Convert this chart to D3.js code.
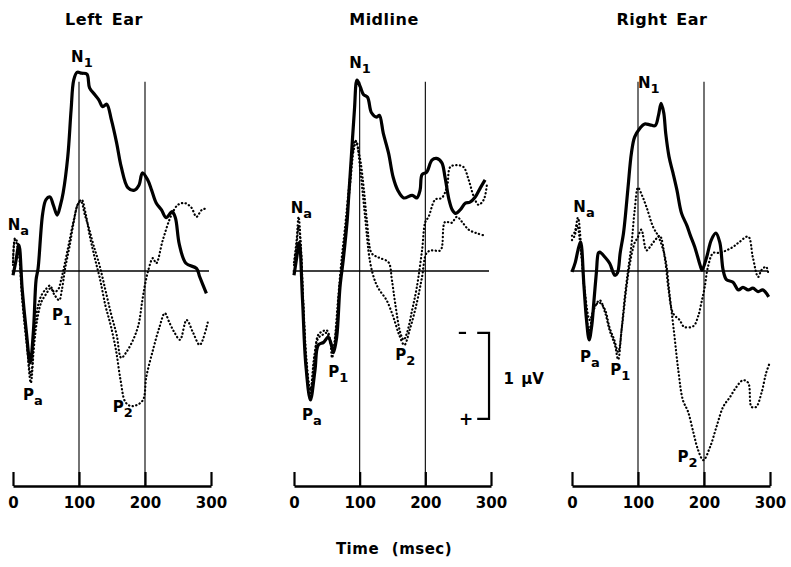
<!DOCTYPE html>
<html>
<head>
<meta charset="utf-8">
<script src="https://cdn.jsdelivr.net/npm/d3@7/dist/d3.min.js"></script>
<style>
body { margin: 0; background: #fff; }
text { font-family: "DejaVu Sans", Arial, Helvetica, sans-serif; font-weight: bold; fill: #000; }
</style>
</head>
<body>
<div id="chart"></div>
<script>

// ---- data: time (msec) and amplitude (uV, negative drawn up) ----
var titles = ["Left Ear", "Midline", "Right Ear"];
var tickLabels = [0, 100, 200, 300];

var leftSolidT = [0,4,9,14,20,26,31,35,38,45,50,56,61,67,72,76,83,88,92,97,104,112,116,124,130,136,142,149,157,164,174,184,191,196,204,210,217,225,232,241,246,252,262,278,283,293];
var leftSolidV = [0.05,-0.10,-0.30,0.22,0.69,1.07,0.69,0.10,-0.03,-0.67,-0.83,-0.86,-0.77,-0.65,-0.77,-0.91,-1.33,-1.87,-2.22,-2.31,-2.30,-2.29,-2.13,-2.05,-1.99,-1.91,-1.94,-1.76,-1.49,-1.21,-0.97,-0.94,-1.00,-1.14,-1.06,-0.94,-0.79,-0.71,-0.62,-0.69,-0.62,-0.31,-0.09,-0.03,0.07,0.26];

var leftDotAT = [0,3,8,14,20,27,32,37,43,50,57,63,70,74,79,86,92,98,104,110,116,124,132,140,148,156,163,170,178,187,197,202,212,222,230,237,245,253,263,273,283,295];
var leftDotAV = [-0.07,-0.38,-0.30,0.22,0.74,1.30,0.86,0.55,0.36,0.27,0.20,0.28,0.34,0.22,-0.03,-0.30,-0.57,-0.77,-0.83,-0.67,-0.42,-0.15,0.10,0.40,0.63,0.92,1.27,1.52,1.57,1.56,1.50,1.23,0.92,0.65,0.49,0.60,0.72,0.80,0.57,0.72,0.86,0.60];

var leftDotBT = [0,3,8,14,20,27,33,38,44,50,56,62,68,73,78,85,92,99,103,109,115,122,131,140,149,157,164,172,182,190,196,200,205,212,217,227,240,250,260,270,278,286,295];
var leftDotBV = [-0.10,-0.36,-0.24,0.34,0.80,1.21,0.69,0.40,0.27,0.21,0.17,0.24,0.22,0.10,-0.07,-0.33,-0.59,-0.79,-0.81,-0.65,-0.50,-0.30,-0.07,0.22,0.51,0.74,1.01,0.94,0.80,0.63,0.34,0.16,-0.01,-0.15,-0.09,-0.36,-0.65,-0.77,-0.79,-0.74,-0.63,-0.71,-0.73];

var midSolidT = [0,4,8,13,18,25,32,37,45,52,57,60,65,70,75,81,83,87,92,96,101,106,112,118,126,130,136,144,151,158,167,180,187,192,195,202,210,217,225,230,236,241,246,253,261,268,276,284,291];
var midSolidV = [0.05,-0.15,-0.33,0.34,1.09,1.50,1.15,0.86,0.83,0.77,0.86,0.95,0.77,0.19,-0.13,-0.59,-0.83,-1.29,-1.87,-2.22,-2.14,-2.05,-2.02,-1.84,-1.79,-1.81,-1.60,-1.37,-1.09,-0.94,-0.85,-0.88,-0.85,-0.94,-1.12,-1.15,-1.29,-1.31,-1.26,-1.09,-0.83,-0.71,-0.67,-0.71,-0.79,-0.80,-0.86,-0.97,-1.06];

var midDotAT = [0,4,7,10,14,19,25,31,37,44,50,55,58,62,67,72,78,84,89,93,100,106,111,118,125,131,144,149,154,162,167,172,180,187,195,200,205,215,225,233,238,248,258,266,274,281,289,294];
var midDotAV = [-0.10,-0.36,-0.63,-0.36,0.34,1.03,1.42,1.03,0.74,0.70,0.69,0.80,1.01,0.80,0.34,-0.10,-0.53,-1.00,-1.35,-1.52,-1.33,-0.98,-0.59,-0.21,-0.17,-0.15,-0.10,0.10,0.37,0.72,0.80,0.72,0.45,0.19,-0.24,-0.57,-0.63,-0.83,-0.85,-0.98,-1.21,-1.23,-1.21,-1.06,-0.86,-0.77,-0.83,-1.02];

var midDotBT = [0,4,7,10,14,19,25,31,37,44,50,56,60,64,69,74,80,86,91,95,101,108,116,124,130,141,151,160,168,176,187,195,202,210,223,230,240,248,256,266,278,291];
var midDotBV = [-0.07,-0.30,-0.53,-0.30,0.40,1.09,1.38,0.98,0.78,0.74,0.72,0.86,0.92,0.69,0.22,-0.15,-0.59,-1.05,-1.41,-1.51,-1.17,-0.65,-0.10,0.13,0.22,0.34,0.53,0.74,0.86,0.69,0.37,0.07,-0.21,-0.24,-0.24,-0.57,-0.56,-0.63,-0.57,-0.48,-0.44,-0.41];

var rightSolidT = [0,5,9,13,18,22,26,30,33,37,40,42,50,57,65,69,73,78,81,85,90,95,103,110,118,126,131,135,139,142,147,153,159,166,174,179,186,194,197,204,211,218,224,229,234,244,252,259,267,274,282,289,298];
var rightSolidV = [0.01,-0.10,-0.24,-0.34,0.16,0.57,0.80,0.63,0.37,0.01,-0.21,-0.22,-0.16,-0.09,0.05,0.02,-0.21,-0.44,-0.65,-0.98,-1.37,-1.56,-1.66,-1.71,-1.70,-1.69,-1.81,-1.95,-1.84,-1.60,-1.33,-1.14,-0.94,-0.67,-0.53,-0.42,-0.28,-0.07,-0.01,-0.16,-0.36,-0.44,-0.33,-0.01,0.10,0.13,0.22,0.19,0.22,0.20,0.24,0.22,0.30];

var rightDotAT = [0,4,9,14,20,26,33,42,50,57,65,70,75,80,85,90,95,100,106,113,123,131,141,148,155,161,168,176,184,191,199,209,219,229,239,249,259,267,272,279,287,294,300];
var rightDotAV = [-0.41,-0.45,-0.62,-0.27,0.34,0.69,0.45,0.34,0.48,0.69,0.86,1.03,0.69,0.30,-0.01,-0.30,-0.71,-0.97,-0.88,-0.74,-0.51,-0.40,-0.16,0.28,0.74,1.15,1.50,1.64,1.88,2.08,2.20,2.05,1.81,1.58,1.47,1.35,1.27,1.30,1.58,1.58,1.42,1.19,1.06];

var rightDotBT = [0,4,8,14,20,27,35,42,50,57,64,70,76,82,88,95,99,105,113,120,126,133,141,146,153,163,170,184,191,196,201,206,214,224,234,244,254,267,274,282,287,294,297];
var rightDotBV = [-0.36,-0.41,-0.53,-0.19,0.28,0.57,0.40,0.37,0.45,0.66,0.80,0.94,0.63,0.22,-0.10,-0.33,-0.38,-0.48,-0.24,-0.30,-0.36,-0.41,-0.13,0.20,0.49,0.57,0.65,0.64,0.53,0.37,0.19,-0.05,-0.21,-0.21,-0.24,-0.28,-0.34,-0.40,-0.16,0.07,-0.01,-0.05,0.01];

// component labels: text, subscript, time, amplitude of the label corner
var leftLabels = [["N","1",88,-2.43],["N","a",-8,-0.48],["P","a",15,1.50],["P","1",59,0.57],["P","2",151,1.64]];
var midLabels = [["N","1",84,-2.36],["N","a",-5,-0.67],["P","a",12,1.73],["P","1",52,1.23],["P","2",154,1.03]];
var rightLabels = [["N","1",100,-2.13],["N","a",2,-0.69],["P","a",12,1.06],["P","1",58,1.21],["P","2",160,2.22]];

// ---- layout ----
var width = 791, height = 567;
var axisY = 486;
var panels = [
	{title: titles[0], titleX: 104, range: [13, 211], solid: [leftSolidT, leftSolidV], dots: [[leftDotAT, leftDotAV], [leftDotBT, leftDotBV]], labels: leftLabels},
	{title: titles[1], titleX: 384, range: [294, 491], solid: [midSolidT, midSolidV], dots: [[midDotAT, midDotAV], [midDotBT, midDotBV]], labels: midLabels},
	{title: titles[2], titleX: 662, range: [572, 770], solid: [rightSolidT, rightSolidV], dots: [[rightDotAT, rightDotAV], [rightDotBT, rightDotBV]], labels: rightLabels}
];

var y = d3.scaleLinear().domain([0, 1]).range([271, 357]);

var svg = d3.select("#chart").append("svg")
	.attr("width", width)
	.attr("height", height);

svg.append("rect").attr("width", width).attr("height", height).attr("fill", "#fff");

function pairs(tArr, vArr){
	return tArr.map(function(t, i){ return [t, vArr[i]]; });
}

panels.forEach(function(p, k){
	var x = d3.scaleLinear().domain([0, 300]).range(p.range);
	var g = svg.append("g");

	var line = d3.line()
		.x(function(d){ return x(d[0]); })
		.y(function(d){ return y(d[1]); })
		.curve(d3.curveCatmullRom.alpha(0.5));

	// title
	g.append("text")
		.attr("x", p.titleX)
		.attr("y", 25)
		.attr("text-anchor", "middle")
		.style("font-size", "16px")
		.style("letter-spacing", "0.5px")
		.style("word-spacing", "3px")
		.text(p.title);

	// reference lines at 100 and 200 ms
	g.selectAll(".vline")
		.data([100, 200])
		.enter().append("line")
			.attr("x1", function(d){ return x(d); })
			.attr("x2", function(d){ return x(d); })
			.attr("y1", y(-2.2))
			.attr("y2", axisY)
			.attr("stroke", "#000")
			.attr("stroke-width", 1.1);

	// zero line
	g.append("line")
		.attr("x1", x(-2)).attr("x2", x(297))
		.attr("y1", y(0)).attr("y2", y(0))
		.attr("stroke", "#000")
		.attr("stroke-width", 1.3);

	// dotted traces
	p.dots.forEach(function(d){
		g.append("path")
			.datum(pairs(d[0], d[1]))
			.attr("d", line)
			.attr("fill", "none")
			.attr("stroke", "#000")
			.attr("stroke-width", 2.2)
			.attr("stroke-linecap", "round")
			.attr("stroke-dasharray", "0.3,3.4");
	});

	// solid trace
	g.append("path")
		.datum(pairs(p.solid[0], p.solid[1]))
		.attr("d", line)
		.attr("fill", "none")
		.attr("stroke", "#000")
		.attr("stroke-width", 3.2)
		.attr("stroke-linejoin", "round");

	// component labels
	p.labels.forEach(function(l){
		var t = g.append("text")
			.attr("x", x(l[2]))
			.attr("y", y(l[3]))
			.style("font-size", "15px");
		t.append("tspan").text(l[0]);
		t.append("tspan")
			.attr("dy", 5)
			.style("font-size", "13px")
			.text(l[1]);
	});

	// time axis
	var axis = d3.axisBottom(x)
		.tickValues(tickLabels)
		.tickSizeInner(-14)
		.tickSizeOuter(0)
		.tickPadding(11);

	var ax = g.append("g")
		.attr("transform", "translate(0," + axisY + ")")
		.call(axis);
	ax.select(".domain").attr("stroke", "#000").attr("stroke-width", 2.6);
	ax.selectAll(".tick line").attr("stroke", "#000").attr("stroke-width", 2.2);
	ax.selectAll(".tick text")
		.attr("fill", "#000")
		.style("font-family", "'DejaVu Sans', Arial, sans-serif")
		.style("font-weight", "bold")
		.style("font-size", "15px");

	// calibration bracket on the midline panel
	if (k == 1){
		var bx = x(297);
		g.append("path")
			.attr("d", "M" + x(279) + "," + y(0.72) + "H" + bx + "V" + y(1.72) + "H" + x(279))
			.attr("fill", "none")
			.attr("stroke", "#000")
			.attr("stroke-width", 2.2);
		g.append("line")
			.attr("x1", x(251)).attr("x2", x(262))
			.attr("y1", y(0.72)).attr("y2", y(0.72))
			.attr("stroke", "#000").attr("stroke-width", 2.2);
		g.append("text")
			.attr("x", x(262))
			.attr("y", y(1.72) + 6)
			.attr("text-anchor", "middle")
			.style("font-size", "17px")
			.text("+");
		g.append("text")
			.attr("x", x(319))
			.attr("y", y(1.31))
			.style("font-size", "15px")
			.style("word-spacing", "2px")
			.text("1 \u03bcV");
	}
});

svg.append("text")
	.attr("x", 394)
	.attr("y", 554)
	.attr("text-anchor", "middle")
	.style("font-size", "15px")
	.style("letter-spacing", "0.5px")
	.style("word-spacing", "7px")
	.text("Time (msec)");

</script>
</body>
</html>
